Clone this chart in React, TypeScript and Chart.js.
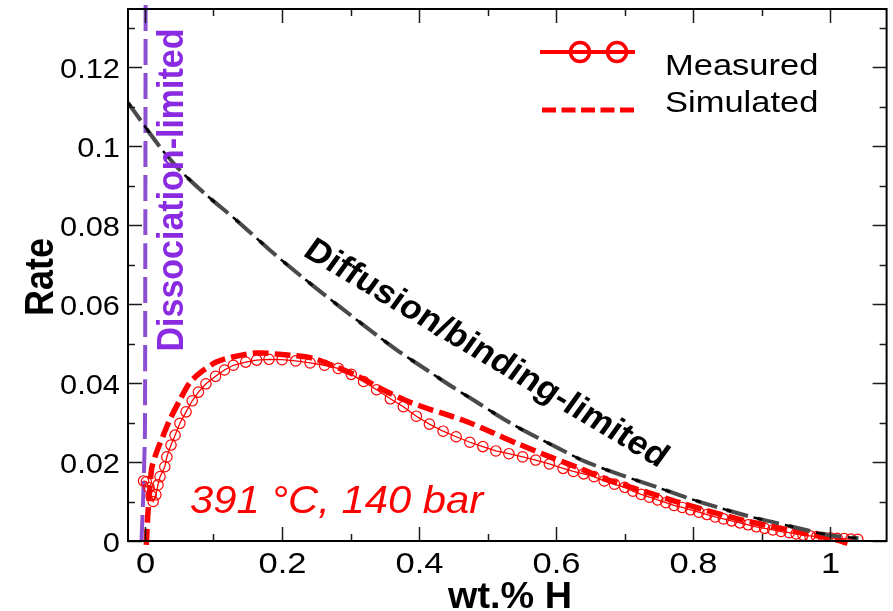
import React, { useEffect, useRef } from 'react';
import { Chart, registerables } from 'chart.js';

Chart.register(...registerables);

const FONT = "'Liberation Sans', Arial, Helvetica, sans-serif";

// Axis ranges and tick steps
const X_MIN = -0.0247;
const X_MAX = 1.082;
const Y_MIN = 0;
const Y_MAX = 0.1347;
const X_MINOR_STEP = 0.1;
const Y_MINOR_STEP = 0.01;

// Measured (red line with open circles)
const MEASURED_X = [
  -0.002, 0.002, 0.006, 0.009, 0.012, 0.016, 0.019, 0.022, 0.029, 0.032, 0.038, 0.044,
  0.051, 0.060, 0.069, 0.078, 0.089, 0.103, 0.116, 0.129, 0.147, 0.163, 0.181, 0.200,
  0.220, 0.241, 0.262, 0.282, 0.301, 0.319, 0.338, 0.358, 0.377, 0.396, 0.415, 0.435,
  0.454, 0.474, 0.493, 0.512, 0.531, 0.551, 0.570, 0.590, 0.610, 0.625, 0.640, 0.655,
  0.670, 0.685, 0.700, 0.712, 0.724, 0.736, 0.748, 0.760, 0.772, 0.784, 0.796, 0.808,
  0.820, 0.832, 0.844, 0.856, 0.868, 0.880, 0.892, 0.904, 0.916, 0.928, 0.940, 0.950,
  0.960, 0.970, 0.980, 0.990, 1.000, 1.010, 1.020, 1.030, 1.040,
];
const MEASURED_Y = [
  0.0152, 0.0150, 0.0135, 0.0115, 0.0100, 0.0117, 0.0142, 0.0163, 0.0188, 0.0213, 0.0243, 0.0268,
  0.0298, 0.0327, 0.0355, 0.0377, 0.0398, 0.0417, 0.0433, 0.0445, 0.0453, 0.0458, 0.0460, 0.0459,
  0.0456, 0.0451, 0.0445, 0.0437, 0.0422, 0.0404, 0.0383, 0.0360, 0.0340, 0.0316, 0.0296, 0.0278,
  0.0264, 0.0250, 0.0239, 0.0228, 0.0221, 0.0213, 0.0205, 0.0195, 0.0184, 0.0176, 0.0170, 0.0163,
  0.0152, 0.0144, 0.0136, 0.0126, 0.0118, 0.0111, 0.0104, 0.0097, 0.0090, 0.0085, 0.0079, 0.0073,
  0.0067, 0.0061, 0.0056, 0.0051, 0.0046, 0.0041, 0.0036, 0.0032, 0.0028, 0.0024, 0.0021, 0.0018,
  0.0015, 0.0013, 0.0011, 0.0009, 0.0008, 0.0007, 0.0006, 0.0005, 0.0004,
];

// Simulated (thick red dashed)
const SIMULATED_X = [
  0.002, 0.004, 0.007, 0.010, 0.017, 0.026, 0.036, 0.051, 0.065, 0.080, 0.104, 0.128,
  0.162, 0.200, 0.244, 0.278, 0.312, 0.345, 0.379, 0.408, 0.437, 0.470, 0.505, 0.543,
  0.591, 0.640, 0.679, 0.730, 0.775, 0.820, 0.872, 0.920, 0.960, 0.990, 1.010, 1.025,
];
const SIMULATED_Y = [
  -0.0010, 0.0060, 0.0130, 0.0185, 0.0225, 0.0264, 0.0306, 0.0357, 0.0400, 0.0425, 0.0453, 0.0466,
  0.0476, 0.0472, 0.0463, 0.0441, 0.0416, 0.0385, 0.0357, 0.0338, 0.0322, 0.0302, 0.0276, 0.0247,
  0.0213, 0.0180, 0.0152, 0.0125, 0.0100, 0.0077, 0.0053, 0.0035, 0.0020, 0.0010, 0.0002, -0.0006,
];

// Diffusion/binding-limited (dark dashed)
const DIFFUSION_X = [
  -0.0247, 0.0218, 0.051, 0.0896, 0.133, 0.182, 0.229, 0.285, 0.3406, 0.3696, 0.413, 0.446,
  0.481, 0.510, 0.543, 0.577, 0.611, 0.640, 0.693, 0.746, 0.790, 0.838, 0.887, 0.940,
  0.995, 1.041,
];
const DIFFUSION_Y = [
  0.1110, 0.0998, 0.0939, 0.0876, 0.0813, 0.0737, 0.0669, 0.0592, 0.0518, 0.0481, 0.0431, 0.0393,
  0.0355, 0.0323, 0.0289, 0.0258, 0.0228, 0.0203, 0.0168, 0.0137, 0.0110, 0.0084, 0.0060, 0.0038,
  0.0016, 0.0007,
];

// Dissociation-limited (purple dashed, nearly vertical)
const DISSOCIATION_X = [-0.005, -0.0025, -0.001, 0.0, 0.0005, 0.001];
const DISSOCIATION_Y = [0.0, 0.0112, 0.020, 0.028, 0.070, 0.1357];

const LEGEND_LABELS = ['Measured', 'Simulated'];
const ANNOTATION_CONDITIONS = '391 °C, 140 bar';
const ANNOTATION_DIFFUSION = 'Diffusion/binding-limited';
const ANNOTATION_DISSOCIATION = 'Dissociation-limited';
const X_TITLE = 'wt.% H';
const Y_TITLE = 'Rate';

const pts = (xs: number[], ys: number[]) => xs.map((x, i) => ({ x, y: ys[i] }));

const fmt = (v: number) => String(parseFloat(v.toFixed(4)));

function drawText(
  ctx: CanvasRenderingContext2D,
  text: string,
  x: number,
  y: number,
  o: { font: string; color: string; sx?: number; rot?: number; align?: CanvasTextAlign; baseline?: CanvasTextBaseline }
) {
  ctx.save();
  ctx.translate(x, y);
  ctx.scale(o.sx ?? 1, 1);
  if (o.rot) ctx.rotate(o.rot);
  ctx.font = o.font;
  ctx.fillStyle = o.color;
  ctx.textAlign = o.align ?? 'left';
  ctx.textBaseline = o.baseline ?? 'alphabetic';
  ctx.fillText(text, 0, 0);
  ctx.restore();
}

const framePlugin = {
  id: 'xmgraceFrame',
  afterDraw(chart: any) {
    const { ctx, chartArea: a, scales } = chart;
    const xs = scales.x;
    const ys = scales.y;
    ctx.save();
    const seg = (x1: number, y1: number, x2: number, y2: number) => {
      ctx.beginPath();
      ctx.moveTo(x1, y1);
      ctx.lineTo(x2, y2);
      ctx.stroke();
    };
    // ticks (inward, on all sides)
    ctx.strokeStyle = '#1a1a1a';
    ctx.lineWidth = 1.5;
    xs.ticks.forEach((t: any) => {
      const px = Math.round(xs.getPixelForValue(t.value)) + 0.5;
      const major = Math.round(t.value / X_MINOR_STEP) % 2 === 0;
      const len = major ? 14 : 7;
      seg(px, a.bottom, px, a.bottom - len);
      seg(px, a.top, px, a.top + len);
      if (major) {
        drawText(ctx, fmt(t.value), px, a.bottom + 32, {
          font: `30px ${FONT}`, color: '#000', sx: 1.15, align: 'center',
        });
      }
    });
    ys.ticks.forEach((t: any) => {
      const py = Math.round(ys.getPixelForValue(t.value)) + 0.5;
      const major = Math.round(t.value / Y_MINOR_STEP) % 2 === 0;
      const len = major ? 14 : 7;
      seg(a.left, py, a.left + len, py);
      seg(a.right, py, a.right - len, py);
      if (major) {
        drawText(ctx, fmt(t.value), a.left - 8, py + 10, {
          font: `28px ${FONT}`, color: '#000', sx: 1.1, align: 'right',
        });
      }
    });
    // frame
    ctx.strokeStyle = '#000';
    ctx.lineWidth = 2;
    ctx.strokeRect(a.left, a.top, a.right - a.left, a.bottom - a.top);

    // axis titles
    drawText(ctx, Y_TITLE, 53, 277, {
      font: `bold 36px ${FONT}`, color: '#000', sx: 1.15, rot: -Math.PI / 2, align: 'center',
    });
    drawText(ctx, X_TITLE, 510, 608, {
      font: `bold 36px ${FONT}`, color: '#000', sx: 1.05, align: 'center',
    });

    // annotations
    drawText(ctx, ANNOTATION_DISSOCIATION, 183, 190, {
      font: `bold 34px ${FONT}`, color: '#8a2be2', sx: 1.1, rot: -Math.PI / 2, align: 'center',
    });
    drawText(ctx, ANNOTATION_DIFFUSION, 486, 354, {
      font: `bold 33px ${FONT}`, color: '#000', sx: 1.1, rot: (33.3 * Math.PI) / 180,
      align: 'center', baseline: 'middle',
    });
    drawText(ctx, ANNOTATION_CONDITIONS, 190, 513, {
      font: `italic 38px ${FONT}`, color: '#ff0000', sx: 1.1, align: 'left',
    });

    // legend
    ctx.strokeStyle = '#ff0000';
    ctx.lineWidth = 4;
    ctx.setLineDash([]);
    seg(540, 52, 635, 52);
    ctx.lineWidth = 3.5;
    [580, 617].forEach((cx) => {
      ctx.beginPath();
      ctx.arc(cx, 52, 9.5, 0, Math.PI * 2);
      ctx.stroke();
    });
    ctx.lineWidth = 5;
    ctx.setLineDash([14, 5.5]);
    seg(542, 110, 635, 110);
    ctx.setLineDash([]);
    drawText(ctx, LEGEND_LABELS[0], 665, 75, { font: `30px ${FONT}`, color: '#000', sx: 1.15 });
    drawText(ctx, LEGEND_LABELS[1], 665, 112, { font: `30px ${FONT}`, color: '#000', sx: 1.15 });
    ctx.restore();
  },
};

export default function App() {
  const ref = useRef<HTMLCanvasElement>(null);
  useEffect(() => {
    document.body.style.margin = '0';
    const chart = new Chart(ref.current as HTMLCanvasElement, {
      type: 'line',
      data: {
        datasets: [
          {
            label: 'Diffusion overlay',
            data: pts(DIFFUSION_X, DIFFUSION_Y),
            borderColor: '#000000',
            borderWidth: 2.5,
            borderDash: [9, 23],
            borderDashOffset: 4,
            pointRadius: 0,
            tension: 0.3,
            fill: false,
          },
          {
            label: 'Diffusion/binding-limited',
            data: pts(DIFFUSION_X, DIFFUSION_Y),
            borderColor: '#4a4a4a',
            borderWidth: 4,
            borderDash: [22, 10],
            pointRadius: 0,
            tension: 0.3,
            fill: false,
          },
          {
            label: 'Simulated',
            data: pts(SIMULATED_X, SIMULATED_Y),
            borderColor: '#ff0000',
            borderWidth: 5.5,
            borderDash: [16, 6],
            pointRadius: 0,
            tension: 0.3,
            fill: false,
            clip: false,
          },
          {
            label: 'Measured',
            data: pts(MEASURED_X, MEASURED_Y),
            borderColor: '#ff0000',
            borderWidth: 1.3,
            pointStyle: 'circle',
            pointRadius: 5.2,
            pointBorderWidth: 1.2,
            pointBorderColor: '#ff0000',
            pointBackgroundColor: 'rgba(0,0,0,0)',
            tension: 0,
            fill: false,
          },
          {
            label: 'Dissociation-limited',
            data: pts(DISSOCIATION_X, DISSOCIATION_Y),
            borderColor: '#8c4fd3',
            borderWidth: 4,
            borderDash: [26, 8],
            pointRadius: 0,
            tension: 0.3,
            fill: false,
            clip: false,
          },
        ],
      } as any,
      options: {
        animation: false,
        responsive: false,
        devicePixelRatio: 1,
        layout: { padding: { top: 9, right: 3, left: 0, bottom: 0 } },
        plugins: { legend: { display: false }, tooltip: { enabled: false } },
        scales: {
          x: {
            type: 'linear',
            min: X_MIN,
            max: X_MAX,
            grid: { display: false },
            border: { display: false },
            ticks: { display: false, stepSize: X_MINOR_STEP, includeBounds: false, maxTicksLimit: 100 },
            afterFit: (s: any) => { s.height = 70; },
          },
          y: {
            type: 'linear',
            min: Y_MIN,
            max: Y_MAX,
            grid: { display: false },
            border: { display: false },
            ticks: { display: false, stepSize: Y_MINOR_STEP, includeBounds: false, maxTicksLimit: 100 },
            afterFit: (s: any) => { s.width = 128; },
          },
        },
      } as any,
      plugins: [framePlugin],
    });
    return () => chart.destroy();
  }, []);
  return (
    <div style={{ width: 893, height: 611, position: 'relative', background: '#fff' }}>
      <canvas ref={ref} width={893} height={611} style={{ display: 'block' }} />
    </div>
  );
}
